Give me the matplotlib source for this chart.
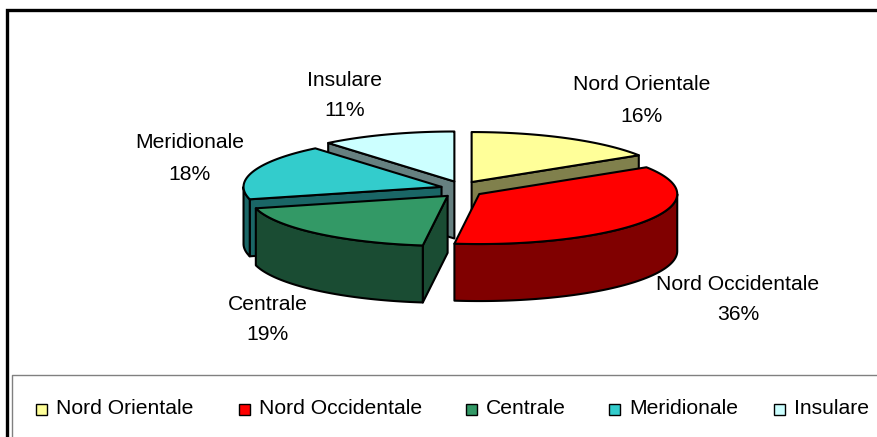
import numpy as np
import matplotlib
matplotlib.use("Agg")
import matplotlib.pyplot as plt
from matplotlib.patches import Polygon, Rectangle

plt.rcParams['font.family'] = ['Liberation Sans', 'DejaVu Sans']

# Data
regions = ["Nord Orientale", "Nord Occidentale", "Centrale", "Meridionale", "Insulare"]
shares = [16, 36, 19, 18, 11]
top_colors = ["#FFFF99", "#FF0000", "#339966", "#33CCCC", "#CCFFFF"]
side_colors = ["#80804C", "#800000", "#1A4C33", "#1A6666", "#668080"]

# Layout of the fake 3D pie (pixel coordinates, y downwards)
cx, cy = 461.5, 189.5   # centre of the top face
a, b = 198.0, 50.0      # ellipse semi axes
h = 57.0                # depth of the pie
ex, ey = 21.0, 8.5      # explosion offsets

# where Excel put the labels (centre of each text block)
label_pos = [(642, 100), (738, 299), (268, 319), (190, 158), (345, 95)]

fig = plt.figure(figsize=(8.78, 4.37), dpi=100)
ax = fig.add_axes([0, 0, 1, 1])
ax.set_xlim(0, 878)
ax.set_ylim(437, 0)
ax.axis('off')

def rim(t, sx, sy, z=0.0):
    return np.column_stack([sx + a*np.sin(t), sy - b*np.cos(t) + z])

total = float(sum(shares))
edges = np.concatenate([[0], np.cumsum(shares)]) / total * 2*np.pi

slices = []
for i in range(len(shares)):
    t0, t1 = edges[i], edges[i+1]
    mid = 0.5*(t0 + t1)
    sx = cx + ex*np.sin(mid)
    sy = cy - ey*np.cos(mid)
    slices.append((np.cos(mid), i, t0, t1, sx, sy))

# back to front
slices.sort(key=lambda s: -s[0])

lw = 1.5
for _, i, t0, t1, sx, sy in slices:
    side = side_colors[i]
    # cut face at start angle
    if np.sin(t0) < -1e-6:
        p = rim(np.array([t0]), sx, sy)[0]
        poly = [(sx, sy), p, (p[0], p[1]+h), (sx, sy+h)]
        ax.add_patch(Polygon(poly, closed=True, fc=side, ec='black', lw=lw, joinstyle='round'))
    # cut face at end angle
    if np.sin(t1) > 1e-6:
        p = rim(np.array([t1]), sx, sy)[0]
        poly = [(sx, sy), p, (p[0], p[1]+h), (sx, sy+h)]
        ax.add_patch(Polygon(poly, closed=True, fc=side, ec='black', lw=lw, joinstyle='round'))
    # outer wall, front half only
    w0, w1 = max(t0, np.pi/2), min(t1, 3*np.pi/2)
    if w1 > w0:
        t = np.linspace(w0, w1, 120)
        up = rim(t, sx, sy)
        dn = rim(t[::-1], sx, sy, h)
        ax.add_patch(Polygon(np.vstack([up, dn]), closed=True, fc=side, ec='black', lw=lw, joinstyle='round'))
    # top face
    t = np.linspace(t0, t1, 150)
    poly = np.vstack([[sx, sy], rim(t, sx, sy)])
    ax.add_patch(Polygon(poly, closed=True, fc=top_colors[i], ec='black', lw=lw, joinstyle='round'))

# data labels
fs = 15.2
for i, (lx, ly) in enumerate(label_pos):
    ax.text(lx, ly - 15, regions[i], ha='center', va='center', fontsize=fs)
    ax.text(lx, ly + 16, "%d%%" % round(shares[i]/total*100), ha='center', va='center', fontsize=fs)

# chart frame (cropped on the right and bottom)
ax.plot([7, 7, 878], [437, 10, 10], color='black', lw=2.4, solid_joinstyle='miter')

# legend box
ax.plot([12, 12, 878], [437, 375, 375], color='#808080', lw=1.0)
leg_x = [36, 239, 466, 609, 774]
for i, name in enumerate(regions):
    ax.add_patch(Rectangle((leg_x[i], 403.5), 11, 11, fc=top_colors[i], ec='black', lw=1.0))
    ax.text(leg_x[i] + 20, 409, name, ha='left', va='center', fontsize=fs)

fig.savefig("out.png", dpi=100)
